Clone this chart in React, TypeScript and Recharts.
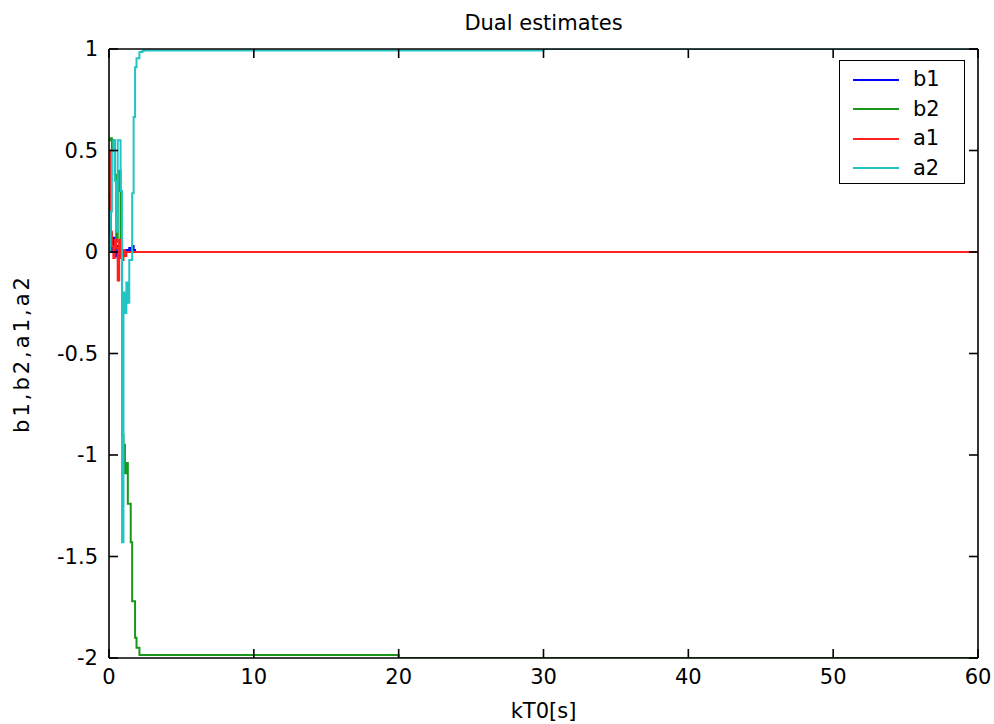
import React from 'react';
import { LineChart, Line, XAxis, YAxis, Legend } from 'recharts';

// Sample instants [s]: dense during the start-up transient, then the hold points.
const time = [0, 0.1, 0.2, 0.3, 0.4, 0.5, 0.6, 0.7, 0.8, 0.9, 1.0, 1.1, 1.2, 1.3, 1.4, 1.5, 1.6, 1.7, 1.8, 1.9, 2.0, 2.1, 2.2, 2.3, 2.4, 20, 30, 60];

const b1 = [0.28, 0.09, 0.0, 0.07, -0.02, 0.03, -0.03, 0.01, -0.02, 0.01, -0.01, 0.0, 0.01, 0.0, 0.02, 0.01, 0.03, 0.01, 0.0, 0.0, 0.0, 0.0, 0.0, 0.0, 0.0, 0.0, 0.0, 0.0];
const b2 = [0.55, 0.56, 0.5, 0.55, 0.38, 0.05, 0.3, 0.4, 0.02, -0.9, -0.95, -1.09, -1.04, -1.24, -1.24, -1.43, -1.72, -1.72, -1.9, -1.95, -1.95, -1.985, -1.985, -1.985, -1.985, -2.0, -2.0, -2.0];
const a1 = [0.5, 0.1, 0.03, -0.03, 0.06, 0.02, -0.14, 0.06, -0.03, -0.04, 0.01, -0.02, 0.0, 0.0, 0.0, 0.0, 0.0, 0.0, 0.0, 0.0, 0.0, 0.0, 0.0, 0.0, 0.0, 0.0, 0.0, 0.0];
const a2 = [0.0, 0.2, 0.5, 0.55, 0.35, 0.1, 0.55, 0.55, 0.3, -1.43, -0.2, -0.3, -0.15, -0.25, -0.04, -0.04, 0.29, 0.665, 0.91, 0.955, 0.955, 0.985, 0.985, 0.99, 0.993, 0.993, 1.0, 1.0];

const xTicks = [0, 10, 20, 30, 40, 50, 60];
const yTicks = [-2, -1.5, -1, -0.5, 0, 0.5, 1];

const seriesNames = ['b1', 'b2', 'a1', 'a2'];
const seriesColors = ['#0000ff', '#1a961a', '#ff2020', '#22c4c4'];

const rows = time.map((t, i) => ({ t, b1: b1[i], b2: b2[i], a1: a1[i], a2: a2[i] }));

const FONT = '"DejaVu Sans", Verdana, sans-serif';
const FS = 21;
const tickStyle = { fontFamily: FONT, fontSize: FS, fill: '#000' };
const labelStyle = { fontFamily: FONT, fontSize: FS, fill: '#000' };
const axisLine = { stroke: '#000', strokeWidth: 1.6 };
const tickLine = { stroke: '#000', strokeWidth: 1.6 };

const LegendBox = () => (
  <div
    style={{
      position: 'absolute',
      left: 0,
      top: 0,
      width: 126,
      height: 124,
      border: '1.6px solid #000',
      background: '#fff',
      boxSizing: 'border-box',
      paddingTop: 4,
    }}
  >
    {seriesNames.map((name, i) => (
      <div key={name} style={{ display: 'flex', alignItems: 'center', height: 29.5 }}>
        <svg width={60} height={10} style={{ marginLeft: 13 }}>
          <line x1={0} y1={5} x2={46} y2={5} stroke={seriesColors[i]} strokeWidth={2} />
        </svg>
        <span style={{ fontFamily: FONT, fontSize: FS, marginLeft: 0, color: '#000', lineHeight: 1 }}>{name}</span>
      </div>
    ))}
  </div>
);

export default function App() {
  return (
    <div style={{ position: 'fixed', left: 0, top: 0, width: 994, height: 724, background: '#fff' }}>
      <LineChart width={994} height={724} data={rows} margin={{ top: 48, right: 15, bottom: 36, left: 49 }}>
        <XAxis
          dataKey="t"
          type="number"
          domain={[0, 60]}
          ticks={xTicks}
          interval={0}
          allowDataOverflow
          axisLine={axisLine}
          tickLine={tickLine}
          tickSize={-9}
          tickMargin={20}
          tick={tickStyle}
          height={30}
          label={{ value: 'kT0[s]', position: 'bottom', offset: 15, style: labelStyle }}
        />
        <XAxis
          xAxisId="top"
          orientation="top"
          type="number"
          dataKey="t"
          domain={[0, 60]}
          ticks={xTicks}
          interval={0}
          allowDataOverflow
          axisLine={axisLine}
          tickLine={tickLine}
          tickSize={-9}
          tickFormatter={() => ''}
          height={1}
          label={{ value: 'Dual estimates', position: 'top', offset: 18, style: labelStyle }}
        />
        <YAxis
          type="number"
          domain={[-2, 1]}
          ticks={yTicks}
          interval={0}
          allowDataOverflow
          axisLine={axisLine}
          tickLine={tickLine}
          tickSize={-9}
          tickMargin={20}
          tick={tickStyle}
          width={60}
          label={{ value: 'b1,b2,a1,a2', angle: -90, position: 'left', offset: 27, style: { ...labelStyle, textAnchor: 'middle', letterSpacing: 3 } }}
        />
        <YAxis
          yAxisId="right"
          orientation="right"
          type="number"
          domain={[-2, 1]}
          ticks={yTicks}
          interval={0}
          allowDataOverflow
          axisLine={axisLine}
          tickLine={tickLine}
          tickSize={-9}
          tickFormatter={() => ''}
          width={1}
        />
        <Line dataKey="b1" type="stepAfter" stroke={seriesColors[0]} strokeWidth={2} dot={false} isAnimationActive={false} />
        <Line dataKey="b2" type="stepAfter" stroke={seriesColors[1]} strokeWidth={2} dot={false} isAnimationActive={false} />
        <Line dataKey="a1" type="stepAfter" stroke={seriesColors[2]} strokeWidth={2} dot={false} isAnimationActive={false} />
        <Line dataKey="a2" xAxisId="top" yAxisId="right" type="stepAfter" stroke={seriesColors[3]} strokeWidth={2} dot={false} isAnimationActive={false} />
        <Legend
          content={() => <LegendBox />}
          wrapperStyle={{ position: 'absolute', left: 839, top: 60, width: 0, height: 0, right: 'auto', bottom: 'auto', overflow: 'visible' }}
        />
      </LineChart>
    </div>
  );
}
